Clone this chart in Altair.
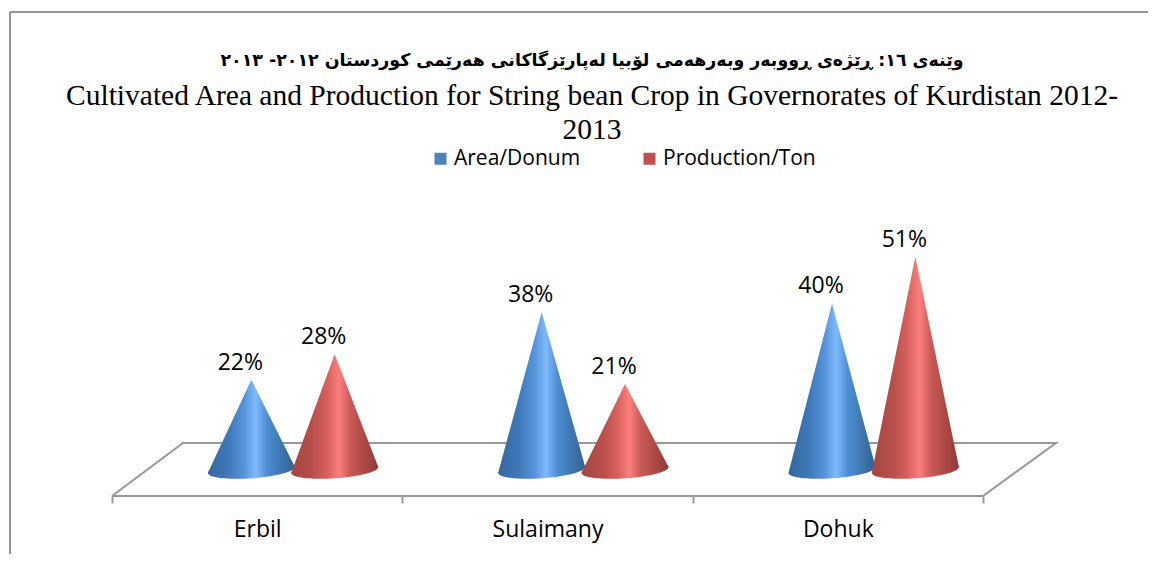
import altair as alt
import pandas as pd

regions = ["Erbil", "Sulaimany", "Dohuk"]
area_pct = [22, 38, 40]
prod_pct = [28, 21, 51]
series_names = ["Area/Donum", "Production/Ton"]

PX_PER_SLOT = 290.33
PX_PER_PCT = 4.24
slot_blue, slot_red = 0.48, 0.767
half_w = 0.15
tilt = 1.4
label_pos = [0.5, 1.5, 2.5]

def cone_rows(values, offset, name):
    rows = []
    for i, v in enumerate(values):
        c = i + offset
        rows.append(dict(cone=f"{name}{i}", x=c - half_w, y=0, y2=0))
        rows.append(dict(cone=f"{name}{i}", x=c, y=v, y2=tilt / 2))
        rows.append(dict(cone=f"{name}{i}", x=c + half_w, y=tilt, y2=tilt))
    return pd.DataFrame(rows)

def grad(stops):
    return alt.Gradient(gradient="linear", x1=0, x2=1, y1=0, y2=0,
                        stops=[alt.GradientStop(offset=o, color=c) for o, c in stops])

blue = grad([(0, "#35669c"), (0.25, "#3f7abb"), (0.42, "#5795da"), (0.55, "#7fbafc"),
             (0.68, "#4d8ed2"), (0.85, "#3e76ae"), (1, "#34608f")])
red = grad([(0, "#a64541"), (0.25, "#b94f4c"), (0.42, "#d9625f"), (0.55, "#fb7f7e"),
            (0.68, "#c95a57"), (0.85, "#ac4844"), (1, "#8f3a36")])

W, H = 944, 316
y_bot, y_top = -23 / PX_PER_PCT, 293 / PX_PER_PCT
xs = alt.Scale(domain=[0, W / PX_PER_SLOT], nice=False, zero=False)
ys = alt.Scale(domain=[y_bot, y_top], nice=False, zero=False)

floor_x = [0, 71 / PX_PER_SLOT, W / PX_PER_SLOT, 3, 0]
floor_y = [y_bot, 30 / PX_PER_PCT, 30 / PX_PER_PCT, y_bot, y_bot]
floor_df = pd.DataFrame({"x": floor_x, "y": floor_y, "o": range(5)})

tick_vals = [0, 1, 2, 3]
label_expr = " : ".join(f"datum.value === {p} ? '{r}'" for p, r in zip(label_pos, regions)) + " : ''"

x_axis = alt.Axis(
    values=sorted(tick_vals + label_pos), title=None, domain=False, grid=False,
    labelExpr=label_expr, labelFont="Open Sans", labelFontSize=23, labelColor="#000000",
    labelPadding=15, labelOverlap=False, labelFlush=False,
    tickSize=7, tickWidth=2, tickColor="#989898",
    tickOpacity=alt.condition("indexof([0,1,2,3], datum.value) >= 0", alt.value(1), alt.value(0)),
)

floor = alt.Chart(floor_df).mark_line(color="#989898", strokeWidth=2, clip=False).encode(
    x=alt.X("x:Q", scale=xs, axis=x_axis),
    y=alt.Y("y:Q", scale=ys, axis=None),
    order="o:Q",
)

ELLIPSE = "M-1,0.07 A1,0.19 -4 1,0 1,-0.07 A1,0.19 -4 1,0 -1,0.07 Z"

def cones(values, offset, name, fill):
    base = pd.DataFrame({"x": [i + offset for i in range(len(values))], "y": [tilt / 2] * len(values)})
    ell = alt.Chart(base).mark_point(shape=ELLIPSE, size=7569, filled=True, fill=fill, opacity=1, strokeWidth=0).encode(
        x=alt.X("x:Q", scale=xs), y=alt.Y("y:Q", scale=ys))
    body = alt.Chart(cone_rows(values, offset, name)).mark_area(fill=fill, line=False, opacity=1).encode(
        x=alt.X("x:Q", scale=xs), y=alt.Y("y:Q", scale=ys), y2="y2:Q", detail="cone:N")
    lab = alt.Chart(pd.DataFrame({"x": [i + offset for i in range(len(values))], "y": values,
                                  "t": [f"{v}%" for v in values]})).mark_text(
        font="Open Sans", fontSize=23, color="#000000", dx=-11, dy=-17, baseline="middle").encode(
        x=alt.X("x:Q", scale=xs), y=alt.Y("y:Q", scale=ys), text="t:N")
    return [ell, body, lab]

legend_layer = alt.Chart(pd.DataFrame({"s": series_names, "x": [0, 0], "y": [0, 0]})).mark_square(size=0, opacity=1).encode(
    x=alt.X("x:Q", scale=xs), y=alt.Y("y:Q", scale=ys),
    color=alt.Color("s:N", scale=alt.Scale(domain=series_names, range=["#4F81BD", "#C0504D"]),
                    legend=alt.Legend(title=None, orient="none", direction="horizontal",
                                      legendX=318, legendY=-32, symbolType="square", symbolSize=144,
                                      symbolStrokeWidth=0, labelFont="Open Sans", labelFontSize=21,
                                      labelColor="#000000", columnPadding=58, labelOffset=3)),
)

frame_top = alt.Chart(pd.DataFrame({"a": [0]})).mark_rule(color="#969696", strokeWidth=2).encode(
    x=alt.value(-102), x2=alt.value(1036), y=alt.value(-168))
frame_left = alt.Chart(pd.DataFrame({"a": [0]})).mark_rule(color="#969696", strokeWidth=2).encode(
    x=alt.value(-102), y=alt.value(-168), y2=alt.value(H + 58))

title = alt.TitleParams(
    text="وێنەی ١٦: ڕێژەی ڕووبەر وبەرهەمی لۆبیا لەپارێزگاکانی هەرێمی کوردستان  ٢٠١٢- ٢٠١٣",
    subtitle=["Cultivated Area  and Production for String bean Crop in Governorates of Kurdistan 2012-", "2013"],
    font="DejaVu Sans", fontSize=17.4, fontWeight="bold", color="#000000",
    subtitleFont="Liberation Serif", subtitleFontSize=29.5, subtitleColor="#000000",
    subtitleLineHeight=34, subtitlePadding=12, anchor="middle", dx=8, offset=-133,
)

layers = [frame_top, frame_left, floor, legend_layer] + cones(area_pct, slot_blue, "a", blue) + cones(prod_pct, slot_red, "p", red)

chart = alt.layer(*layers).resolve_axis(x="shared").properties(
    width=W, height=H, title=title,
    padding={"left": 104, "top": 172, "right": 92, "bottom": 58},
    autosize=alt.AutoSizeParams(type="none"),
).configure_view(stroke=None)

chart.save("out.html", embed_options={"renderer": "svg", "actions": False})
